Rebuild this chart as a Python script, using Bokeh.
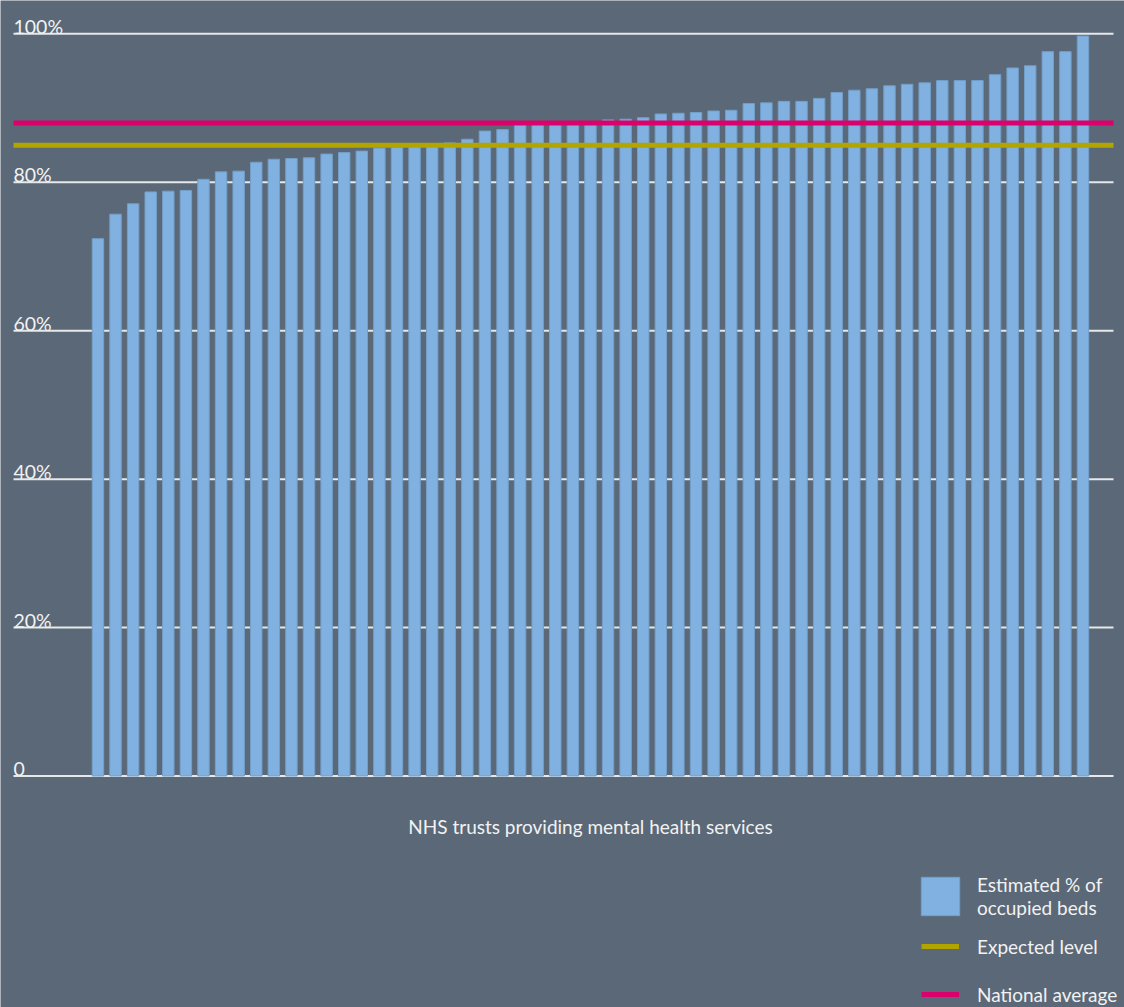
from bokeh.plotting import figure
from bokeh.models import Range1d, Legend, LegendItem
from bokeh.core.properties import value
from bokeh.embed import file_html
from bokeh.resources import INLINE

# ---------------- data ----------------
occupancy = [72.4, 75.7, 77.1, 78.7, 78.8, 78.9, 80.4, 81.4, 81.5, 82.7,
             83.1, 83.2, 83.3, 83.8, 84.0, 84.2, 84.6, 84.7, 84.8, 84.9,
             85.3, 85.8, 86.9, 87.1, 87.8, 87.9, 88.0, 88.0, 88.1, 88.4,
             88.5, 88.7, 89.2, 89.3, 89.4, 89.6, 89.7, 90.6, 90.7, 90.9,
             90.9, 91.3, 92.1, 92.4, 92.6, 93.0, 93.2, 93.4, 93.7, 93.7,
             93.7, 94.5, 95.4, 95.7, 97.6, 97.6, 99.7]
trusts = list(range(len(occupancy)))
tick_values = [0, 20, 40, 60, 80, 100]
tick_labels = ["0", "20%", "40%", "60%", "80%", "100%"]
expected_level = [85.0]
national_average = [88.0]
x_title = ["NHS trusts providing mental health services"]
legend_labels = ["Estimated % of\noccupied beds", "Expected level", "National average"]

# ---------------- style ----------------
BG = "#5a6877"
BAR = "#80b1e1"
YELLOW = "#b3a500"
PINK = "#dc006d"
TXT = "#f2f2f2"
FONT = value("Lato")

W, H = 1124, 1007
x_left, x_right = -4.801, 57.735

p = figure(width=W, height=H, output_backend="svg", toolbar_location=None,
           title=None, x_range=Range1d(-5.540, 58.36), y_range=Range1d(-31.19, 104.49),
           x_axis_location=None, y_axis_location=None, min_border=0,
           background_fill_color=BG, border_fill_color=BG, outline_line_color=None)
p.grid.grid_line_color = None

# gridlines
p.segment(x0=x_left, x1=x_right, y0=tick_values, y1=tick_values,
          line_color="#e6e8ea", line_width=2)

# bars
bars = p.vbar(x=trusts, top=occupancy, bottom=0, width=0.65,
              fill_color=BAR, line_color="#729fca", line_width=1)

# reference lines
exp_r = p.segment(x0=[x_left], x1=[x_right], y0=expected_level, y1=expected_level,
                  line_color=YELLOW, line_width=5)
nat_r = p.segment(x0=[x_left], x1=[x_right], y0=national_average, y1=national_average,
                  line_color=PINK, line_width=5)

# tick labels
p.text(x=x_left, y=tick_values, text=tick_labels, text_font=FONT,
       text_font_size="19.5px", text_color=TXT, text_align="left",
       text_baseline="alphabetic", y_offset=-7.5)

# x title
p.text(x=[(len(occupancy) - 1) / 2], y=[0], text=x_title, text_font=FONT,
       text_font_size="19px", text_color=TXT, text_align="center",
       text_baseline="alphabetic", y_offset=50)

common = dict(orientation="vertical", padding=0, margin=0, border_line_color=None,
              background_fill_alpha=0, label_text_font="Lato",
              label_text_font_size="19px", label_text_color=TXT)

legend_a = Legend(items=[LegendItem(label=legend_labels[0], renderers=[bars])],
                  location=(916, 87), glyph_width=48, glyph_height=48,
                  label_standoff=13, label_text_line_height=1.5, **common)
legend_b = Legend(items=[LegendItem(label=legend_labels[1], renderers=[exp_r]),
                         LegendItem(label=legend_labels[2], renderers=[nat_r])],
                  location=(921, -6), glyph_width=38, glyph_height=38,
                  label_standoff=18, spacing=10, **common)
p.add_layout(legend_a)
p.add_layout(legend_b)

open("out.html", "w").write(file_html(p, INLINE))
